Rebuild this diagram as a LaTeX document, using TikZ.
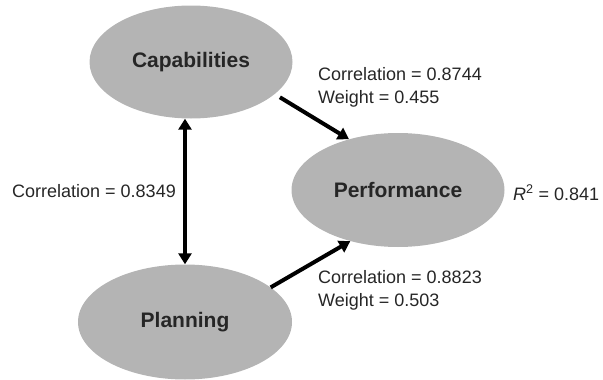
\documentclass[tikz,border=0pt]{standalone}
\usepackage{fontspec}
\setmainfont{Liberation Sans}
\usepackage{tikz}
\usetikzlibrary{arrows.meta, shapes.geometric}
\definecolor{ovalgray}{HTML}{B4B4B4}
\definecolor{inkgray}{HTML}{262626}

\begin{document}
\begin{tikzpicture}[x=1pt, y=-1pt,
  latent/.style={ellipse, fill=ovalgray, inner sep=0pt, text=inkgray,
    font=\fontsize{21}{25}\selectfont\bfseries},
  lbl/.style={inner sep=0pt, text=inkgray, font=\fontsize{18}{23}\selectfont},
  path/.style={line width=4pt, -{Triangle[length=11pt, width=13pt]}},
  both/.style={line width=4pt, {Triangle[length=11pt, width=13pt]}-{Triangle[length=11pt, width=13pt]}}]
\useasboundingbox (0,0) rectangle (603,380);
\node[latent, minimum width=203pt, minimum height=113pt] (cap) at (191,62) {Capabilities};
\node[latent, minimum width=213pt, minimum height=114pt] (perf) at (398,190) {Performance};
\node[latent, minimum width=214pt, minimum height=115pt] (plan) at (185,322) {Planning};
\draw[path, shorten <=6pt] (cap.-21.5) -- (perf.134);
\draw[path] (plan.22) -- (perf.-133);
\draw[both] (plan.north |- cap.south) -- (plan.north);
\path
(318,67) node[lbl, anchor=north west, align=left] (w1) {Correlation = 0.8744\\Weight = 0.455};
\path
(318,270) node[lbl, anchor=north west, align=left] (w2) {Correlation = 0.8823\\Weight = 0.503};
\path
(12,197) node[lbl, anchor=base west] (c3) {Correlation = 0.8349};
\path
(513,200) node[lbl, anchor=base west] (r2) {\textit{R}\textsuperscript{2} = 0.841};
\end{tikzpicture}
\end{document}
